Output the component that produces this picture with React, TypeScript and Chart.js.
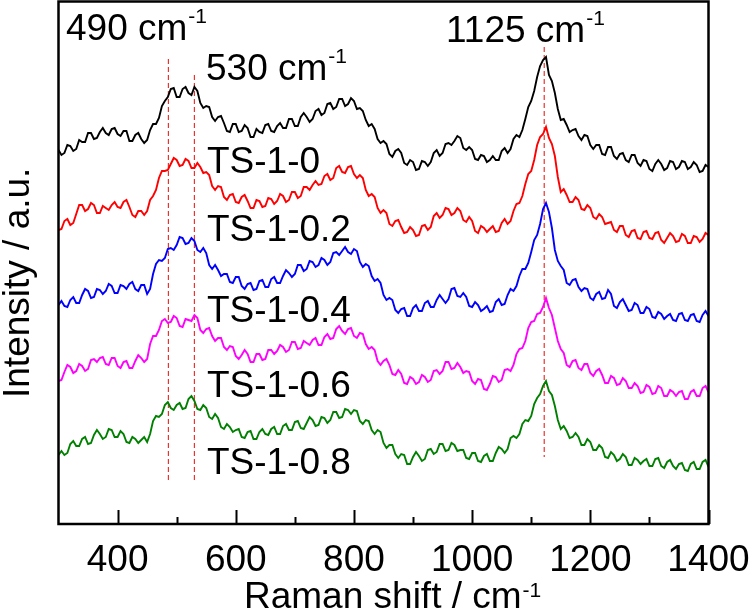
import React, { useEffect, useRef } from 'react';
import { Chart, registerables } from 'chart.js';

Chart.register(...registerables);

const FONT = '"Liberation Sans", Arial, Helvetica, sans-serif';

// Raman shift (cm^-1) sampling points, 5 cm^-1 apart
const wavenumbers = [
  300, 305, 310, 315, 320, 325, 330, 335, 340, 345, 350, 355, 360, 365, 370, 375, 380, 385, 390, 395,
  400, 405, 410, 415, 420, 425, 430, 435, 440, 445, 450, 455, 460, 465, 470, 475, 480, 485, 490, 495,
  500, 505, 510, 515, 520, 525, 530, 535, 540, 545, 550, 555, 560, 565, 570, 575, 580, 585, 590, 595,
  600, 605, 610, 615, 620, 625, 630, 635, 640, 645, 650, 655, 660, 665, 670, 675, 680, 685, 690, 695,
  700, 705, 710, 715, 720, 725, 730, 735, 740, 745, 750, 755, 760, 765, 770, 775, 780, 785, 790, 795,
  800, 805, 810, 815, 820, 825, 830, 835, 840, 845, 850, 855, 860, 865, 870, 875, 880, 885, 890, 895,
  900, 905, 910, 915, 920, 925, 930, 935, 940, 945, 950, 955, 960, 965, 970, 975, 980, 985, 990, 995,
  1000, 1005, 1010, 1015, 1020, 1025, 1030, 1035, 1040, 1045, 1050, 1055, 1060, 1065, 1070, 1075, 1080, 1085, 1090, 1095,
  1100, 1105, 1110, 1115, 1120, 1125, 1130, 1135, 1140, 1145, 1150, 1155, 1160, 1165, 1170, 1175, 1180, 1185, 1190, 1195,
  1200, 1205, 1210, 1215, 1220, 1225, 1230, 1235, 1240, 1245, 1250, 1255, 1260, 1265, 1270, 1275, 1280, 1285, 1290, 1295,
  1300, 1305, 1310, 1315, 1320, 1325, 1330, 1335, 1340, 1345, 1350, 1355, 1360, 1365, 1370, 1375, 1380, 1385, 1390, 1395, 1400,
];

// Stacked (offset) intensities, a.u.
const ts1_0 = [
  374, 369, 371, 379, 378, 373, 375, 384, 382, 382, 391, 391, 385, 386, 392, 396, 391, 389, 395, 396,
  390, 388, 393, 393, 383, 383, 389, 391, 385, 381, 384, 394, 400, 400, 406, 418, 423, 427, 435, 436,
  427, 427, 435, 437, 431, 429, 437, 433, 421, 416, 418, 417, 407, 403, 407, 408, 401, 393, 392, 400,
  400, 392, 393, 399, 396, 387, 387, 395, 392, 391, 399, 400, 393, 392, 398, 401, 396, 396, 405, 405,
  398, 398, 407, 411, 407, 402, 405, 413, 415, 409, 411, 420, 421, 415, 417, 425, 425, 418, 420, 426,
  423, 415, 416, 413, 404, 398, 400, 395, 385, 381, 383, 380, 370, 367, 373, 375, 371, 361, 359, 364,
  362, 354, 355, 363, 362, 358, 362, 371, 374, 368, 371, 380, 381, 379, 383, 388, 386, 376, 374, 377,
  374, 365, 364, 369, 368, 362, 364, 368, 364, 364, 373, 376, 371, 375, 385, 389, 387, 394, 405, 417,
  423, 433, 447, 458, 464, 467, 449, 443, 431, 415, 404, 405, 399, 392, 394, 395, 388, 384, 389, 388,
  379, 375, 379, 379, 370, 369, 377, 377, 368, 365, 370, 371, 364, 362, 369, 369, 361, 358, 364, 363,
  355, 353, 360, 364, 360, 354, 356, 363, 362, 355, 357, 363, 362, 355, 357, 362, 359, 352, 353, 359, 357,
];

const ts1_02 = [
  294, 295, 303, 305, 299, 301, 310, 319, 319, 313, 315, 321, 319, 311, 311, 318, 316, 314, 319, 322,
  317, 316, 322, 324, 317, 309, 307, 313, 313, 309, 313, 324, 328, 334, 346, 353, 353, 354, 360, 366,
  364, 358, 359, 365, 363, 356, 356, 361, 357, 351, 352, 349, 338, 334, 338, 337, 327, 324, 329, 330,
  322, 321, 327, 329, 323, 316, 316, 324, 323, 317, 318, 326, 325, 320, 323, 330, 328, 322, 324, 332,
  332, 326, 328, 337, 337, 334, 339, 343, 339, 340, 348, 350, 344, 346, 356, 358, 352, 351, 357, 358,
  350, 346, 349, 346, 334, 328, 330, 327, 316, 311, 314, 311, 300, 298, 303, 304, 297, 291, 292, 297,
  294, 288, 289, 298, 299, 294, 297, 308, 311, 306, 309, 316, 315, 309, 311, 316, 313, 304, 302, 307,
  303, 293, 291, 298, 296, 292, 295, 298, 292, 293, 301, 305, 300, 303, 313, 320, 321, 328, 340, 350,
  353, 364, 379, 387, 390, 397, 386, 380, 368, 347, 332, 335, 329, 322, 322, 327, 324, 315, 314, 319,
  316, 307, 305, 310, 307, 300, 301, 302, 294, 292, 298, 298, 289, 287, 293, 294, 286, 285, 292, 293,
  286, 285, 291, 292, 284, 281, 286, 291, 288, 282, 283, 290, 288, 281, 281, 288, 287, 282, 285, 291, 289,
];

const ts1_04 = [
  219, 223, 218, 217, 224, 227, 221, 221, 229, 235, 233, 226, 227, 235, 234, 230, 233, 240, 238, 231,
  231, 239, 238, 235, 240, 242, 235, 233, 239, 239, 230, 235, 250, 260, 264, 263, 266, 275, 276, 274,
  279, 287, 286, 280, 281, 286, 283, 274, 272, 276, 271, 259, 255, 259, 254, 248, 250, 250, 242, 241,
  247, 247, 238, 235, 240, 241, 234, 235, 243, 244, 237, 237, 245, 247, 241, 241, 248, 254, 251, 247,
  250, 259, 259, 253, 255, 263, 262, 257, 259, 266, 264, 259, 262, 271, 272, 269, 273, 277, 272, 270,
  275, 273, 262, 257, 260, 258, 248, 243, 245, 241, 229, 224, 226, 224, 214, 211, 215, 216, 208, 208,
  216, 219, 213, 213, 221, 223, 217, 217, 224, 229, 225, 221, 225, 235, 236, 228, 227, 231, 227, 218,
  217, 222, 219, 213, 215, 218, 212, 213, 222, 225, 219, 220, 229, 235, 233, 238, 248, 255, 255, 261,
  272, 284, 289, 300, 315, 321, 312, 296, 274, 263, 258, 254, 241, 239, 244, 245, 237, 233, 236, 235,
  226, 224, 230, 232, 225, 226, 234, 230, 218, 216, 222, 225, 219, 213, 214, 221, 219, 211, 211, 217,
  215, 207, 206, 212, 210, 205, 208, 210, 204, 203, 210, 211, 204, 203, 209, 210, 203, 202, 209, 213, 208,
];

const ts1_06 = [
  143, 144, 152, 159, 157, 151, 153, 160, 158, 153, 155, 164, 165, 162, 166, 167, 160, 159, 166, 166,
  158, 156, 162, 163, 156, 156, 163, 169, 166, 162, 165, 180, 188, 188, 194, 203, 205, 201, 202, 208,
  206, 198, 197, 205, 204, 203, 209, 206, 194, 191, 195, 196, 188, 183, 186, 186, 177, 174, 178, 177,
  168, 165, 169, 174, 170, 162, 162, 170, 170, 164, 165, 174, 174, 170, 173, 179, 177, 172, 174, 182,
  182, 175, 176, 183, 181, 179, 184, 186, 179, 179, 187, 190, 185, 186, 195, 198, 193, 190, 195, 196,
  188, 186, 191, 190, 180, 175, 177, 174, 163, 159, 163, 165, 159, 150, 149, 154, 150, 141, 140, 147,
  145, 140, 142, 149, 147, 142, 144, 153, 154, 150, 153, 162, 162, 155, 156, 161, 157, 151, 153, 152,
  143, 140, 145, 144, 135, 134, 140, 148, 147, 142, 144, 154, 155, 153, 159, 170, 175, 176, 183, 196,
  202, 203, 210, 211, 217, 226, 216, 209, 196, 183, 175, 171, 159, 157, 163, 164, 156, 154, 160, 160,
  151, 148, 153, 155, 149, 141, 141, 148, 146, 139, 140, 146, 143, 136, 136, 141, 138, 131, 132, 139,
  137, 130, 131, 138, 136, 128, 128, 134, 132, 128, 132, 133, 125, 125, 132, 134, 128, 128, 136, 138, 132,
];

const ts1_08 = [
  69, 73, 69, 71, 80, 83, 78, 78, 85, 87, 80, 81, 89, 94, 90, 85, 87, 95, 94, 87,
  87, 93, 90, 82, 81, 87, 85, 81, 84, 87, 82, 90, 103, 108, 107, 110, 119, 122, 116, 114,
  119, 121, 115, 116, 125, 128, 123, 115, 114, 119, 116, 107, 105, 110, 106, 97, 95, 100, 97, 92,
  94, 95, 87, 86, 92, 93, 85, 85, 92, 95, 90, 89, 95, 97, 90, 90, 98, 100, 94, 94,
  102, 103, 96, 95, 101, 107, 104, 98, 99, 107, 106, 101, 104, 112, 112, 106, 107, 115, 114, 110,
  114, 113, 103, 100, 104, 103, 94, 90, 94, 92, 81, 76, 79, 79, 70, 66, 70, 69, 60, 60,
  67, 72, 68, 63, 65, 74, 75, 70, 72, 80, 80, 73, 74, 81, 79, 73, 74, 74, 66, 65,
  71, 71, 63, 62, 68, 70, 63, 63, 71, 77, 75, 71, 75, 86, 88, 86, 90, 100, 104, 103,
  108, 120, 126, 130, 138, 143, 133, 129, 118, 104, 95, 98, 93, 86, 87, 91, 87, 79, 79, 85,
  82, 74, 74, 79, 76, 67, 66, 72, 69, 63, 65, 70, 67, 59, 59, 66, 64, 60, 63, 65,
  58, 58, 65, 66, 58, 56, 62, 64, 58, 55, 60, 61, 54, 53, 60, 62, 55, 55, 62, 64, 57,
];

const seriesNames = ['TS-1-0', 'TS-1-0.2', 'TS-1-0.4', 'TS-1-0.6', 'TS-1-0.8'];
const seriesValues = [ts1_0, ts1_02, ts1_04, ts1_06, ts1_08];
const seriesColors = ['#000000', '#ff0000', '#0000ff', '#ff00ff', '#008000'];

const xMajorTicks = [400, 600, 800, 1000, 1200, 1400];
const xMinorTicks = [500, 700, 900, 1100, 1300];

const peakPositions = [486, 530, 1122];
const peakLineTop = [465, 449, 477];
const peakLineBottom = [44, 44, 67];
const peakLabels = ['490 cm', '530 cm', '1125 cm'];

const X_MIN = 300;
const X_MAX = 1400;
const Y_MIN = 0;
const Y_MAX = 522.5;

const decorPlugin = {
  id: 'decor',
  afterDraw(chart: any) {
    const { ctx, chartArea } = chart;
    const xs = chart.scales.x;
    const { left, right, top, bottom } = chartArea;
    ctx.save();
    // frame
    ctx.strokeStyle = '#000';
    ctx.lineWidth = 2.5;
    ctx.strokeRect(left, top, right - left, bottom - top);
    // inward ticks
    ctx.lineWidth = 2;
    ctx.beginPath();
    xMajorTicks.forEach((v) => {
      const px = Math.round(xs.getPixelForValue(v)) + 0.5;
      ctx.moveTo(px, bottom);
      ctx.lineTo(px, bottom - 14);
    });
    xMinorTicks.forEach((v) => {
      const px = Math.round(xs.getPixelForValue(v)) + 0.5;
      ctx.moveTo(px, bottom);
      ctx.lineTo(px, bottom - 7);
    });
    ctx.stroke();

    ctx.fillStyle = '#000';
    ctx.textAlign = 'left';
    ctx.textBaseline = 'alphabetic';
    const sup = (text: string, x: number, y: number, raise: number) => {
      ctx.font = `37px ${FONT}`;
      ctx.fillText(text, x, y);
      const w = ctx.measureText(text).width;
      ctx.font = `21px ${FONT}`;
      ctx.fillText('-1', x + w + 1, y - raise);
    };
    // peak annotations
    const peakPos = [
      [66, 40],
      [206, 80],
      [446, 42],
    ];
    peakLabels.forEach((t, i) => sup(t, peakPos[i][0], peakPos[i][1], 17));

    // series labels
    const labelBase = [173, 241, 322, 397, 474];
    ctx.font = `37px ${FONT}`;
    seriesNames.forEach((n, i) => ctx.fillText(n, 207, labelBase[i]));

    // axis titles
    sup('Raman shift / cm', 244, 608, 11);
    ctx.save();
    ctx.translate(29, 398);
    ctx.rotate(-Math.PI / 2);
    ctx.font = `37px ${FONT}`;
    ctx.fillText('Intensity / a.u.', 0, 0);
    ctx.restore();
    ctx.restore();
  },
};

export default function App() {
  const ref = useRef<HTMLCanvasElement | null>(null);
  useEffect(() => {
    if (!ref.current) return;
    const datasets: any[] = seriesValues.map((vals, i) => ({
      label: seriesNames[i],
      data: wavenumbers.map((w, j) => ({ x: w, y: vals[j] })),
      borderColor: seriesColors[i],
      borderWidth: 1.9,
      pointRadius: 0,
      tension: 0,
      fill: false,
    }));
    peakPositions.forEach((p, i) => {
      datasets.push({
        label: 'peak' + i,
        data: [
          { x: p, y: peakLineTop[i] },
          { x: p, y: peakLineBottom[i] },
        ],
        borderColor: 'rgb(232, 52, 44)',
        borderWidth: 1.2,
        borderDash: [5, 3],
        pointRadius: 0,
        fill: false,
      });
    });
    const chart = new Chart(ref.current, {
      type: 'line',
      data: { datasets },
      options: {
        responsive: false,
        animation: false,
        events: [],
        layout: { padding: { left: 58.5, top: 1.5, right: 41.5, bottom: 0 } },
        plugins: {
          legend: { display: false },
          tooltip: { enabled: false },
        },
        scales: {
          x: {
            type: 'linear',
            min: X_MIN,
            max: X_MAX,
            grid: { display: false, drawTicks: false },
            border: { display: false },
            afterBuildTicks: (scale: any) => {
              scale.ticks = xMajorTicks.map((v) => ({ value: v }));
            },
            afterFit: (scale: any) => {
              scale.height = 89;
              scale.paddingLeft = 0;
              scale.paddingRight = 0;
            },
            ticks: {
              color: '#000',
              padding: 15,
              maxRotation: 0,
              autoSkip: false,
              callback: (v: any) => String(v),
              font: { family: FONT, size: 37, lineHeight: 1.2 },
            },
          },
          y: {
            type: 'linear',
            display: false,
            min: Y_MIN,
            max: Y_MAX,
          },
        },
      },
      plugins: [decorPlugin],
    });
    return () => chart.destroy();
  }, []);
  return (
    <div style={{ position: 'absolute', left: 0, top: 0, width: 750, height: 613, background: '#fff' }}>
      <canvas ref={ref} width={750} height={613} style={{ display: 'block' }} />
    </div>
  );
}
